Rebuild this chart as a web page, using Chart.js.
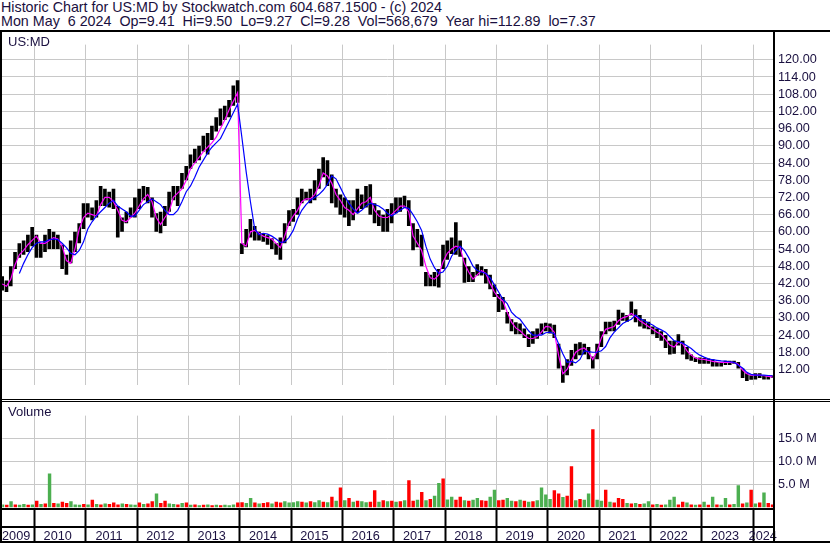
<!DOCTYPE html>
<html>
<head>
<meta charset="utf-8">
<script src="https://cdn.jsdelivr.net/npm/chart.js@4.4.1/dist/chart.umd.min.js"></script>
<style>
  body { margin: 0; background: #fff; }
  #wrap { position: relative; width: 830px; height: 543px; overflow: hidden; background: #fff;
          font-family: "Liberation Sans", Arial, sans-serif; color: #1a1040; }
  .txt { position: absolute; font-size: 13px; white-space: pre; line-height: 14px; }
  .hdr { font-size: 14.3px; }
  .ln { position: absolute; background: #000; }
  canvas { position: absolute; left: 0; }
</style>
</head>
<body>
<div id="wrap">
  <div class="txt hdr" style="left:1px;top:0px">Historic Chart for US:MD by Stockwatch.com 604.687.1500 - (c) 2024</div>
  <div class="txt hdr" style="left:1px;top:14px">Mon May  6 2024  Op=9.41  Hi=9.50  Lo=9.27  Cl=9.28  Vol=568,679  Year hi=112.89  lo=7.37</div>
  <canvas id="priceChart" width="830" height="366" style="top:32px"></canvas>
  <canvas id="volChart" width="830" height="140" style="top:403px"></canvas>
  <div class="txt" style="left:8px;top:35px">US:MD</div>
  <div class="txt" style="left:8px;top:405px">Volume</div>
  <div class="ln" style="left:0;top:30px;width:830px;height:2px"></div>
  <div class="ln" style="left:0;top:31px;width:2px;height:512px"></div>
  <div class="ln" style="left:773px;top:31px;width:2px;height:512px"></div>
  <div class="ln" style="left:0;top:399px;width:830px;height:1px"></div>
  <div class="ln" style="left:0;top:401px;width:830px;height:1px"></div>
  <div class="ln" style="left:0;top:508px;width:775px;height:2px"></div>
  <div class="ln" style="left:0;top:526px;width:775px;height:2px"></div>
  <div class="ln" style="left:0;top:541px;width:830px;height:2px"></div>
</div>
<script>
// monthly data, first month = May 2009, last = May 2024
const firstYear = 2009, firstMonth = 4

const priceLo = [
  39.5, 39, 41, 47, 51, 52, 53, 55,
  51, 51, 53, 54, 54, 54, 47, 45, 49, 53, 56, 61,
  65, 64, 65, 69, 69, 68.5, 68, 58, 60, 63, 65, 65,
  68, 71, 70, 65, 60, 59.5, 62, 67, 71, 69, 75, 78,
  82, 84, 85, 88, 87, 92, 95, 97, 99, 100, 104, 105,
  52.3, 54.6, 58, 57, 57, 56.5, 55.5, 54, 52, 50.3, 56, 62,
  63.5, 66, 70, 71, 70, 71, 75, 79, 76, 70, 68.5, 66,
  65, 62, 64, 66.5, 68, 68.5, 66, 63, 62, 60, 60, 63,
  66.5, 67, 68.5, 62, 53.6, 54.6, 48, 41, 41, 41, 40.6, 47,
  50.3, 52.3, 52, 51.3, 42.2, 42.5, 42.5, 44.8, 44.8, 42, 40, 37.3,
  32, 32.8, 28, 25.3, 24.3, 24.3, 23, 19.8, 21, 22.7, 24.3, 25.3,
  24.5, 23, 12.3, 7.4, 10, 13.3, 15.6, 17, 17.2, 15.6, 12.3, 15.6,
  19.8, 24.3, 25.3, 25.3, 27.6, 29, 28.6, 30.8, 28.5, 27, 26.3, 26,
  24.3, 23, 22, 19.5, 17.2, 17.5, 20.4, 17.2, 15.6, 15, 14.6, 14,
  14, 14, 13, 13, 13, 13.6, 13.6, 14, 12.3, 9, 8, 8.4,
  8.5, 9, 8.5, 8.5, 9.1
]
const priceHi = [
  44.5, 43, 48, 53, 56, 57, 59, 61.7,
  59, 56, 59, 61, 60, 59, 55.5, 52, 57, 60, 63, 70,
  70, 68.5, 71, 76, 75, 74, 75, 69, 65, 67, 68.5, 72,
  75, 76, 75.6, 72, 66.5, 67, 69, 74, 76, 76, 80.5, 83,
  87, 89, 90, 93.5, 94.5, 97, 100, 103, 104, 106, 111, 112.9,
  56, 61, 64.5, 62, 60, 59.5, 58.8, 57.8, 56, 58, 63, 67.5,
  68, 72, 75, 74, 75, 78, 82, 86, 85, 80, 75, 73,
  72, 71, 71, 75, 73, 76, 76.6, 70, 67.5, 66, 68, 70,
  72, 72, 72.6, 71, 63, 61, 59, 46, 45, 46, 47, 55.5,
  57, 58, 63.3, 57, 51, 48, 46, 48.7, 48, 47, 45, 41.6,
  38.3, 37.3, 32, 29.5, 28.5, 28, 26.3, 24.3, 25.3, 26.3, 28, 28.3,
  28, 27.6, 21, 13.3, 15.6, 18.8, 21, 21.5, 21, 19.8, 16.5, 21,
  25.3, 28.6, 28.6, 29, 32.8, 31.8, 31, 35.7, 33, 31, 29.5, 28.6,
  27, 26.3, 25.3, 24, 22, 22, 24.3, 22, 19.8, 17.2, 16.2, 16.2,
  16, 15.8, 15.6, 14.6, 14.6, 15, 15, 15, 14.6, 12.3, 10.7, 10,
  10.7, 10.7, 10, 10, 9.9
]
// short moving average (magenta)
const maShort = [
  41.8, 41, 43.5, 48.5, 52, 53.5, 55.5, 57,
  58.5, 56, 56, 57, 58, 57.5, 55, 50, 49, 54, 61, 65,
  66.5, 66, 65.5, 69.5, 72, 72, 70.5, 67.5, 64, 63.5, 65, 66.5,
  69, 71.5, 73, 70.5, 65, 62.5, 65, 67, 72, 73.5, 75, 78,
  82, 84, 86, 88, 89.5, 91, 93, 96, 99, 102.5, 105.5, 108.5,
  56, 55, 60, 60.5, 59.5, 58.5, 58, 57.5, 56, 54.5, 58.5, 63,
  65.5, 67.5, 70.5, 71.5, 71.5, 73, 76, 80.5, 79.5, 77, 73, 71,
  68.5, 67.5, 66, 68, 70, 70.5, 72, 67.5, 65.5, 65, 65, 66,
  67.5, 69, 69, 67, 58.5, 56, 53.5, 48, 44, 43.5, 45, 49.5,
  52.5, 54, 55, 54.5, 49, 46, 43.5, 45, 46.5, 45.5, 42, 39,
  37, 35.8, 32, 28.5, 26.5, 25.5, 24, 22.8, 22.8, 23.5, 25, 27,
  26.8, 25, 17, 10.5, 12, 15, 18, 19, 19.5, 18, 15.5, 18.5,
  23, 26, 26.5, 27, 29, 30, 30.5, 31.5, 30.5, 29, 28, 27,
  26, 25, 24.3, 22.5, 20.5, 19.8, 21.5, 21, 18.5, 17, 16, 15.6,
  15.5, 15.2, 14.8, 14.6, 14.5, 14.5, 14.5, 14.4, 13.8, 11.8, 10.5, 10,
  10, 10, 9.8, 9.6, 9.4
]
// long moving average (blue)
const maLong = [
  null, null, null, null, 45.5, 49, 52, 54.5,
  56, 56.5, 56.5, 57.3, 57.5, 57.3, 56, 54.5, 52.5, 52, 53.5, 56.5,
  61, 63.5, 65.5, 67, 68.5, 70, 71, 69, 68, 67, 65.5, 65.5,
  67.5, 69.5, 70.5, 71.5, 70.5, 69.5, 67.5, 66, 66, 67.5, 70.5, 74,
  76, 79, 82.5, 85, 87.5, 89.5, 91, 92.5, 95.5, 98.5, 101.5, 104.5,
  93, 81, 70.5, 61, 59, 59.5, 59.2, 58.5, 57.5, 56.3, 56.5, 58,
  60.5, 64.5, 67.5, 69.5, 71, 72, 73, 74.5, 76.5, 79.5, 78.5, 75.5,
  72.5, 70, 68, 66.5, 67.5, 69, 70, 69.5, 69, 68, 66.5, 65.5,
  66.5, 67.5, 68.5, 68.2, 66, 63.5, 60.5, 55, 50.5, 47.5, 45.5, 46,
  48, 51.5, 53.5, 55, 53.5, 51, 48, 46.5, 46, 45.5, 44, 41.5,
  39, 36.5, 35, 32, 30.5, 29.5, 27.5, 25.5, 24, 24, 24, 24.8,
  25, 24.5, 21, 17.5, 14.5, 14.8, 14.3, 15.5, 18.5, 18.2, 18, 18,
  18.5, 20, 23, 25, 26.5, 28, 28.8, 29.5, 31, 29.8, 29, 28.2,
  27.5, 26.5, 25.8, 25, 23.5, 22, 21.7, 21.2, 20.3, 19.3, 18, 17,
  16.3, 15.7, 15.4, 15.2, 15, 14.9, 14.7, 14.5, 13.5, 12.5, 11, 10.3,
  10, 10, 10, 9.9, 9.8
]
// volume in millions of shares
const volume = [
  0.6, 0.5, 1.3, 0.6, 0.5, 0.7, 0.5, 0.6,
  1.4, 0.7, 0.8, 7.4, 0.9, 0.8, 1.2, 0.9, 1.3, 0.6, 0.5, 0.7,
  0.6, 1.6, 0.7, 0.6, 0.8, 0.7, 1.0, 0.6, 0.8, 0.7, 0.6, 0.5,
  1.0, 0.7, 0.8, 1.3, 3.0, 0.9, 1.4, 0.8, 0.7, 0.6, 0.9, 1.0,
  0.5, 0.6, 0.4, 0.5, 0.6, 0.4, 0.5, 0.4, 0.5, 0.4, 0.6, 1.0,
  1.1, 0.9, 2.0, 1.0, 0.8, 0.9, 1.1, 0.8, 1.2, 1.0, 1.3, 1.0,
  1.1, 1.3, 1.2, 1.0, 1.3, 1.1, 1.5, 1.2, 1.1, 2.3, 1.4, 4.3,
  1.5, 2.0, 1.2, 1.4, 1.3, 1.1, 1.2, 3.7, 1.2, 1.5, 1.3, 1.4,
  1.2, 1.3, 1.5, 5.9, 1.4, 1.6, 3.3, 1.5, 1.8, 2.5, 5.3, 6.3,
  1.7, 2.3, 1.6, 2.3, 1.5, 1.4, 1.6, 2.0, 1.5, 1.4, 2.3, 3.8,
  1.5, 1.6, 2.0, 1.4, 1.3, 1.6, 1.4, 1.2, 1.3, 1.5, 4.3, 2.8,
  1.8, 3.7, 3.0, 2.2, 2.5, 9.0, 1.5, 1.8, 1.6, 3.0, 17.1, 1.6,
  1.4, 3.8, 1.2, 1.0, 2.0, 1.8, 0.9, 0.8, 0.9, 0.7, 0.8, 1.3,
  0.6, 0.7, 0.5, 0.6, 1.6, 2.3, 0.6, 1.2, 1.0, 0.6, 0.5, 0.6,
  1.2, 0.5, 2.3, 0.6, 0.5, 2.0, 0.6, 0.7, 4.8, 0.8, 1.0, 3.8,
  0.8, 1.0, 3.2, 0.9, 0.6
]
// g = up month (green volume), r = down month (red volume)
const volDir =
  "grgrggrg" + "rgrgrgrrgggr" + "grgrgrrrgrgg" + "rgrrgrrggrgr" + "grgrgrgrgggr" +
  "rggrgrrgrrgg" + "ggrgrggrgrgr" + "grgrggrrgrgr" + "grgrrgrgrggr" + "ggrrgrggrrgg" +
  "rrggrgrgrggg" + "grrgrrgrggrg" + "grgrrrgrgrgg" + "rgrgggrrgrgr" + "grgrggrggrgr" + "grgrr"

const priceTicks = [12, 18, 24, 30, 36, 42, 48, 54, 60, 66, 72, 78, 84, 90, 96, 102, 108, 114, 120]
const volTicks = [5, 10, 15]
const yearTicks = [2010, 2011, 2012, 2013, 2014, 2015, 2016, 2017, 2018, 2019, 2020, 2021, 2022, 2023, 2024]
const yearLabels = ['2009', '2010', '2011', '2012', '2013', '2014', '2015', '2016', '2017', '2018', '2019', '2020', '2021', '2022', '2023', '2024']

const xMin = 2009.371, xMax = 2024.384
const monthX = priceLo.map((_, i) => firstYear + (firstMonth + i + 0.5) / 12)

const gridGray = '#c8c8c8'
const txtColor = '#1a1040'
const tickFont = { family: 'Liberation Sans', size: 12.7 }

const setTicks = (list) => (scale) => { scale.ticks = list.map(v => ({ value: v })) }

const common = {
  responsive: false,
  animation: false,
  devicePixelRatio: 1,
  events: [],
  plugins: { legend: { display: false }, tooltip: { enabled: false } }
}

new Chart(document.getElementById('priceChart'), {
  type: 'bar',
  data: {
    datasets: [
      {
        type: 'line',
        data: monthX.map((x, i) => ({ x: x, y: maLong[i] })),
        borderColor: '#0000ff', borderWidth: 1.2, pointRadius: 0, order: 1
      },
      {
        type: 'line',
        data: monthX.map((x, i) => ({ x: x, y: maShort[i] })),
        borderColor: '#ff00ff', borderWidth: 1.2, pointRadius: 0, order: 2
      },
      {
        type: 'bar',
        data: monthX.map((x, i) => ({ x: x, y: [priceLo[i], priceHi[i]] })),
        backgroundColor: '#000', barPercentage: 0.85, categoryPercentage: 1, order: 3
      }
    ]
  },
  options: {
    ...common,
    layout: { padding: { left: 2, right: 0, top: 0, bottom: 0 } },
    scales: {
      x: {
        type: 'linear', min: xMin, max: xMax, offset: false,
        afterBuildTicks: setTicks(yearTicks),
        afterFit: (s) => { s.height = 0 },
        ticks: { display: false },
        grid: { color: gridGray, drawTicks: false, offset: false },
        border: { display: false }
      },
      y: {
        position: 'right', min: 6.45, max: 125.29,
        afterBuildTicks: setTicks(priceTicks),
        afterFit: (s) => { s.width = 57 },
        ticks: { color: txtColor, font: tickFont, padding: 5, callback: (v) => v.toFixed(2) },
        grid: { color: gridGray, drawTicks: false },
        border: { display: false }
      }
    }
  }
})

new Chart(document.getElementById('volChart'), {
  type: 'bar',
  data: {
    datasets: [{
      data: monthX.map((x, i) => ({ x: x, y: volume[i] })),
      backgroundColor: volume.map((_, i) => volDir[i] === 'g' ? '#4caf50' : '#ff0000'),
      barPercentage: 0.8, categoryPercentage: 1
    }]
  },
  options: {
    ...common,
    layout: { padding: { left: 2, right: 0, top: 0, bottom: 0 } },
    scales: {
      x: {
        type: 'linear', min: xMin, max: xMax, offset: false,
        afterBuildTicks: setTicks(yearTicks),
        afterFit: (s) => { s.height = 19 },
        ticks: { display: false },
        grid: { color: gridGray, tickColor: '#000', tickLength: 35, tickWidth: 2, offset: false },
        border: { display: false }
      },
      xl: {
        type: 'linear', position: 'bottom', min: xMin, max: xMax, offset: false,
        afterBuildTicks: (s) => {
          s.ticks = yearLabels.map(y => ({ value: Math.min(Math.max(+y + 0.45, xMin + 0.27), xMax - 0.2) }))
        },
        afterFit: (s) => { s.height = 16 },
        ticks: { color: txtColor, font: tickFont, padding: 2, autoSkip: false, maxRotation: 0,
                 callback: (v, i) => yearLabels[i] },
        grid: { display: false, drawTicks: false, offset: false },
        border: { display: false }
      },
      y: {
        position: 'right', min: -0.19, max: 20.1,
        afterBuildTicks: setTicks(volTicks),
        afterFit: (s) => { s.width = 57 },
        ticks: { color: txtColor, font: tickFont, padding: 5, callback: (v) => v.toFixed(1) + ' M' },
        grid: { color: gridGray, drawTicks: false },
        border: { display: false }
      }
    }
  }
})
</script>
</body>
</html>
